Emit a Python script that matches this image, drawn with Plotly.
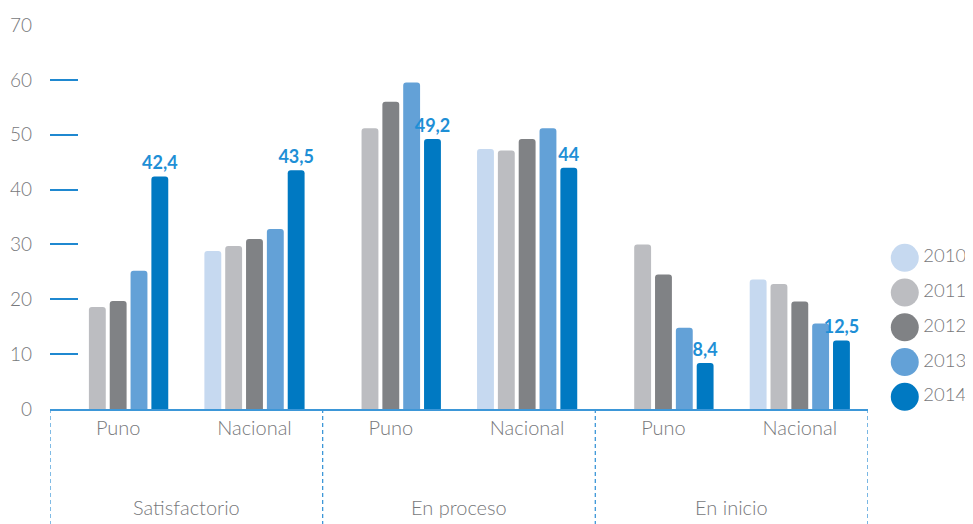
import plotly.graph_objects as go

groups = ["Satisfactorio", "En proceso", "En inicio"]
subs = ["Puno", "Nacional"]
years = ["2010", "2011", "2012", "2013", "2014"]

# values per year, order: Satisf-Puno, Satisf-Nacional, Proceso-Puno, Proceso-Nacional, Inicio-Puno, Inicio-Nacional
v2010 = [None, 28.8, None, 47.4, None, 23.6]
v2011 = [18.6, 29.7, 51.2, 47.1, 30.0, 22.8]
v2012 = [19.7, 31.0, 56.0, 49.2, 24.5, 19.6]
v2013 = [25.2, 32.8, 59.5, 51.2, 14.8, 15.6]
v2014 = [42.4, 43.5, 49.2, 44, 8.4, 12.5]
series = [v2010, v2011, v2012, v2013, v2014]

y_ticks = [0, 10, 20, 30, 40, 50, 60, 70]

colors = ["#c6d9f0", "#bcbdc1", "#808285", "#63a1d7", "#0079c2"]
label_blue = "#1e8fd6"
axis_blue = "#3d97d8"
gray_text = "#77787b"
FONT = "Lato, 'Source Sans Pro', 'Open Sans', sans-serif"

keys = [f"{g}|{s}" for g in groups for s in subs]
ticktext = [s for g in groups for s in subs]


def fmt(v):
    return f"{v:g}".replace(".", ",")


fig = go.Figure()
for yr, vals, col in zip(years, series, colors):
    kw = {}
    if yr == "2014":
        kw = dict(
            text=[fmt(v) for v in vals],
            textposition="outside",
            constraintext="none",
            textfont=dict(family=FONT, size=18, color=label_blue, weight="bold"),
            cliponaxis=False,
        )
    fig.add_trace(go.Bar(
        x=keys, y=vals, name=yr, marker=dict(color=col, line=dict(width=0)),
        showlegend=False, hoverinfo="x+y+name", **kw))

# custom legend with large circles
fig.add_trace(go.Scatter(
    x=[0] * len(years), y=list(range(len(years))), mode="markers+text",
    text=years, textposition="middle right",
    marker=dict(size=28, color=colors, line=dict(width=0)),
    textfont=dict(family=FONT, size=18.5, color=gray_text, weight=300),
    xaxis="x2", yaxis="y2", showlegend=False, hoverinfo="skip", cliponaxis=False))

shapes = []
for i in range(len(groups) + 1):
    shapes.append(dict(type="line", xref="x", yref="paper",
                       x0=2 * i - 0.5, x1=2 * i - 0.5, y0=0, y1=-0.31,
                       line=dict(color=axis_blue, width=1.3, dash="4px,3px")))

annotations = []
for i, g in enumerate(groups):
    annotations.append(dict(x=2 * i + 0.5, xref="x", y=-0.255, yref="paper",
                            text=g, showarrow=False, yanchor="middle",
                            font=dict(family=FONT, size=20, color=gray_text, weight=300)))

# page body has an 8px margin, so the figure is slightly smaller than the window
fig.update_layout(
    width=965, height=516,
    margin=dict(l=42, r=0, t=17, b=115, autoexpand=False),
    paper_bgcolor="white", plot_bgcolor="white",
    barmode="group", bargap=0.236, bargroupgap=0.19, barcornerradius=3,
    font=dict(family=FONT, color=gray_text),
    xaxis=dict(domain=[0, 0.8862], range=[-0.5, 5.5], type="category",
               tickvals=keys, ticktext=ticktext, showgrid=False,
               showline=True, linecolor=axis_blue, linewidth=2,
               ticks="", tickfont=dict(family=FONT, size=20, color=gray_text, weight=300),
               zeroline=False, fixedrange=True, automargin=False),
    yaxis=dict(range=[0, 70], tickvals=y_ticks, showgrid=False, zeroline=False,
               showline=False, ticks="inside", ticklen=28, tickwidth=1.5,
               tickcolor="#1f88d0", ticklabelstandoff=17,
               tickfont=dict(family=FONT, size=19, color=gray_text, weight=300),
               fixedrange=True, automargin=False),
    xaxis2=dict(domain=[0.9, 1], range=[-24, 68], visible=False, fixedrange=True),
    yaxis2=dict(domain=[0, 1], range=[4.35, -6.70], visible=False, anchor="x2",
                fixedrange=True),
    shapes=shapes, annotations=annotations,
)

fig.write_html("out.html")
